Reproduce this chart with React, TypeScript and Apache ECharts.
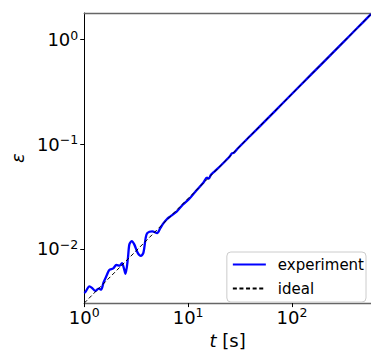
import React, { useEffect, useRef } from "react";
import * as echarts from "echarts";

const seriesNames = ["experiment", "ideal"];

const expT = [
  1.0, 1.029, 1.121, 1.207, 1.277, 1.374, 1.454, 1.531, 1.644, 1.743, 1.901, 2.041, 2.192, 2.308,
  2.411, 2.496, 2.628, 2.721, 2.867, 3.031, 3.263, 3.504, 3.715, 3.904, 4.051, 4.514, 5.028, 5.4,
  5.8, 6.243, 6.705, 7.75, 8.88, 10.33, 12, 14, 15.2, 15.8, 16.6, 18, 21, 25, 26.3, 27.5, 30, 40,
  60, 80, 120, 200, 300, 420, 576,
];
const expEps = [
  0.0038, 0.00389, 0.0044, 0.00418, 0.00397, 0.00418, 0.00409, 0.00476, 0.00558, 0.00631, 0.00653,
  0.00703, 0.00693, 0.00734, 0.00653, 0.00579, 0.008, 0.01107, 0.01189, 0.01107, 0.00923, 0.0086,
  0.00923, 0.01277, 0.01422, 0.01476, 0.01422, 0.01585, 0.01766, 0.01926, 0.02041, 0.02274, 0.02645,
  0.03033, 0.0362, 0.043, 0.048, 0.047, 0.0512, 0.0552, 0.0638, 0.076, 0.0818, 0.083, 0.0912, 0.1215,
  0.182, 0.243, 0.365, 0.608, 0.913, 1.278, 1.754,
];

const idealT = [1, 576];
const idealEps = [0.00304, 1.751];

const xRange = [1, 576];
const yRange = [0.00304, 1.8];
const xTickValues = [1, 10, 100];
const yTickValues = [0.01, 0.1, 1];

const FONT = "DejaVu Sans";

function powLabel(v: number): string {
  const e = Math.round(Math.log10(v));
  const s = e < 0 ? "\u2212" + Math.abs(e) : String(e);
  return `{b|10}{s|${s}}`;
}

const richLabel = {
  b: { fontSize: 18, lineHeight: 22, fontFamily: FONT, color: "#000" },
  s: { fontSize: 12.5, lineHeight: 12, fontFamily: FONT, color: "#000", verticalAlign: "top" },
};

export default function App() {
  const ref = useRef<HTMLDivElement>(null);
  useEffect(() => {
    document.body.style.margin = "0";
    const chart = echarts.init(ref.current!, undefined, { renderer: "svg" });
    const expData = expT.map((t, i) => [t, expEps[i]]);
    const idealData = idealT.map((t, i) => [t, idealEps[i]]);
    chart.setOption({
      animation: false,
      backgroundColor: "#fff",
      grid: { left: 82, top: 13, width: 294, height: 295.5, containLabel: false },
      legend: {
        data: seriesNames,
        orient: "vertical",
        right: 5,
        top: 252,
        itemWidth: 33,
        itemHeight: 14,
        itemGap: 9,
        padding: [5, 2, 6, 5],
        backgroundColor: "rgba(255,255,255,0.8)",
        borderColor: "#cccccc",
        borderWidth: 1,
        borderRadius: 4,
        itemStyle: { opacity: 0 },
        textStyle: { fontSize: 15, fontFamily: FONT, color: "#000", padding: [0, 0, 0, 7] },
      },
      xAxis: [
        {
          type: "log",
          logBase: 10,
          min: xRange[0],
          max: xRange[1],
          name: "{i|t} [s]",
          nameLocation: "middle",
          nameGap: 26,
          nameTextStyle: {
            fontSize: 18,
            fontFamily: FONT,
            color: "#000",
            rich: { i: { fontSize: 18, fontFamily: FONT, fontStyle: "italic", color: "#000" } },
          },
          axisLine: { show: true, lineStyle: { color: "#666", width: 1.3 } },
          axisTick: { show: true, length: 4, inside: false, customValues: xTickValues, lineStyle: { color: "#000", width: 1 } },
          axisLabel: { customValues: xTickValues, margin: 3, formatter: powLabel, rich: richLabel },
          minorTick: { show: false },
          splitLine: { show: false },
        },
        {
          type: "log",
          logBase: 10,
          min: xRange[0],
          max: xRange[1],
          position: "top",
          axisLine: { show: true, lineStyle: { color: "#666", width: 1.3 } },
          axisTick: { show: false },
          axisLabel: { show: false },
          splitLine: { show: false },
        },
      ],
      yAxis: {
        type: "log",
        logBase: 10,
        min: yRange[0],
        max: yRange[1],
        name: "\u03b5",
        nameLocation: "middle",
        nameRotate: 90,
        nameGap: 53,
        nameTextStyle: { fontSize: 18, fontFamily: FONT, fontStyle: "italic", color: "#000" },
        axisLine: { show: true, lineStyle: { color: "#000", width: 1 } },
        axisTick: { show: true, length: 4, customValues: yTickValues, lineStyle: { color: "#000", width: 1 } },
        axisLabel: { customValues: yTickValues, margin: 6, formatter: powLabel, rich: richLabel },
        minorTick: { show: false },
        splitLine: { show: false },
      },
      series: [
        {
          name: seriesNames[0],
          type: "line",
          data: expData,
          symbol: "none",
          smooth: 0.3,
          lineStyle: { color: "#0000ff", width: 2.3 },
          itemStyle: { color: "#0000ff" },
          z: 2,
        },
        {
          name: seriesNames[1],
          type: "line",
          data: idealData,
          symbol: "none",
          lineStyle: { color: "#000", width: 1, type: [4, 2.6] },
          itemStyle: { color: "#000" },
          z: 3,
        },
      ],
    });
    return () => chart.dispose();
  }, []);
  return <div ref={ref} style={{ width: 371, height: 354 }} />;
}
